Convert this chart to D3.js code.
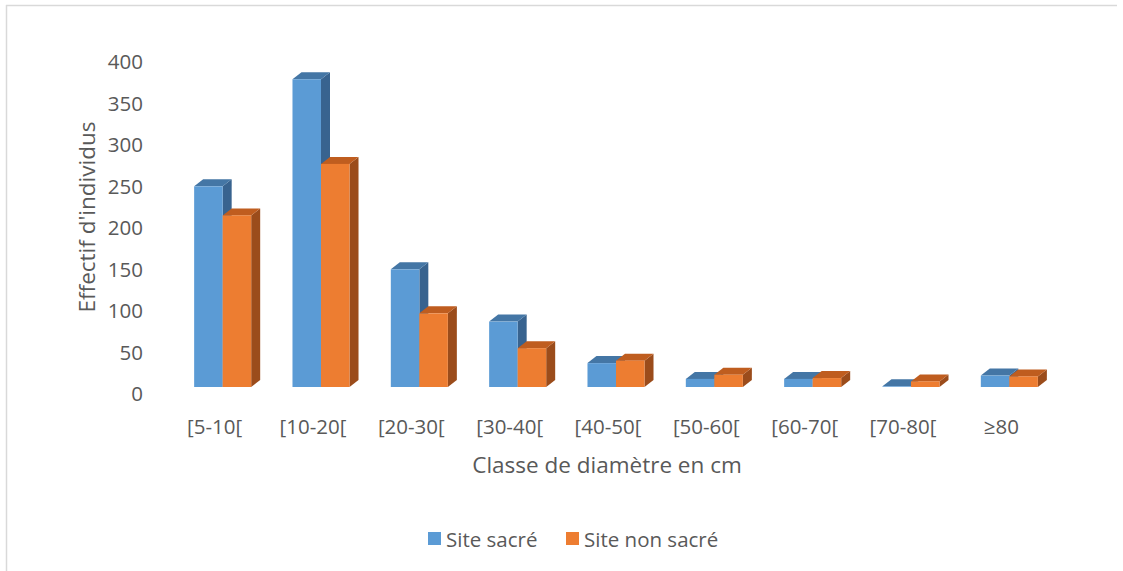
<!DOCTYPE html>
<html>
<head>
<meta charset="utf-8">
<script src="https://cdn.jsdelivr.net/npm/d3@7"></script>
<style>
  body { margin: 0; background: #fff; }
  svg { display: block; font-family: "Open Sans", sans-serif; }
  .tick-label { fill: #595959; font-size: 20.5px; }
  .axis-title { fill: #595959; font-size: 22.5px; }
  .legend-label { fill: #595959; font-size: 20.5px; }
</style>
</head>
<body>
<svg id="chart" width="1123" height="571"></svg>
<script>
  const categories = ["[5-10[", "[10-20[", "[20-30[", "[30-40[", "[40-50[", "[50-60[", "[60-70[", "[70-80[", "≥80"];
  const siteSacre = [249, 378, 149, 86, 36, 17, 17, 8, 21];
  const siteNonSacre = [214, 276, 96, 54, 39, 22, 18, 14, 20];
  const yTicks = [0, 50, 100, 150, 200, 250, 300, 350, 400];
  const seriesNames = ["Site sacré", "Site non sacré"];

  const colors = {
    "Site sacré": { front: "#5b9bd5", top: "#4476a5", side: "#38638f" },
    "Site non sacré": { front: "#ed7d31", top: "#bf5d1f", side: "#9b4c1b" }
  };

  const svg = d3.select("#chart");

  // chart frame (only left/top edge visible)
  svg.append("line").attr("x1", 6.5).attr("y1", 5).attr("x2", 6.5).attr("y2", 571)
    .attr("stroke", "#d9d9d9").attr("stroke-width", 1.5);
  svg.append("line").attr("x1", 6).attr("y1", 5.5).attr("x2", 1117).attr("y2", 5.5)
    .attr("stroke", "#d9d9d9").attr("stroke-width", 1.5);

  const depthX = 9, depthY = -7, floorOffset = 6;

  const y = d3.scaleLinear().domain([0, 400]).range([393, 61]);

  const x = d3.scaleBand()
    .domain(categories)
    .range([173.5, 1058.5])
    .paddingInner(0.42)
    .paddingOuter(0.21);

  const xs = d3.scaleBand().domain(seriesNames).range([0, x.bandwidth()]);

  // y tick labels
  svg.append("g").selectAll("text")
    .data(yTicks)
    .join("text")
      .attr("class", "tick-label")
      .attr("x", 143)
      .attr("y", d => y(d))
      .attr("text-anchor", "end")
      .attr("dominant-baseline", "central")
      .text(d => d);

  // bars
  const rows = categories.map((c, i) => ({
    cat: c,
    values: [
      { name: seriesNames[0], v: siteSacre[i] },
      { name: seriesNames[1], v: siteNonSacre[i] }
    ]
  }));

  const bottom = y(0) - floorOffset;

  const groups = svg.append("g").selectAll("g")
    .data(rows)
    .join("g")
      .attr("transform", d => `translate(${x(d.cat)},0)`);

  groups.each(function(row) {
    const g = d3.select(this);
    row.values.forEach(s => {
      const x0 = xs(s.name), w = xs.bandwidth();
      const top = Math.min(y(s.v), bottom);
      const c = colors[s.name];
      // side face
      g.append("path")
        .attr("d", `M${x0 + w},${top} L${x0 + w + depthX},${top + depthY} L${x0 + w + depthX},${bottom + depthY} L${x0 + w},${bottom} Z`)
        .attr("fill", c.side);
      // top face
      g.append("path")
        .attr("d", `M${x0},${top} L${x0 + depthX},${top + depthY} L${x0 + w + depthX},${top + depthY} L${x0 + w},${top} Z`)
        .attr("fill", c.top);
      // front face
      g.append("rect")
        .attr("x", x0)
        .attr("y", top)
        .attr("width", w)
        .attr("height", bottom - top)
        .attr("fill", c.front);
    });
  });

  // x labels
  svg.append("g").selectAll("text")
    .data(categories)
    .join("text")
      .attr("class", "tick-label")
      .attr("x", d => x(d) + x.bandwidth() / 2 - 8)
      .attr("y", 426)
      .attr("text-anchor", "middle")
      .attr("dominant-baseline", "central")
      .text(d => d);

  // axis titles
  svg.append("text")
    .attr("class", "axis-title")
    .attr("transform", "translate(86,217) rotate(-90)")
    .attr("text-anchor", "middle")
    .attr("dominant-baseline", "central")
    .text("Effectif d'individus");

  svg.append("text")
    .attr("class", "axis-title")
    .attr("x", 607)
    .attr("y", 464)
    .attr("text-anchor", "middle")
    .attr("dominant-baseline", "central")
    .text("Classe de diamètre en cm");

  // legend
  const legendX = [428, 566];
  const legend = svg.append("g").selectAll("g")
    .data(seriesNames)
    .join("g")
      .attr("transform", (d, i) => `translate(${legendX[i]},532)`);

  legend.append("rect")
    .attr("width", 13).attr("height", 13)
    .attr("fill", d => colors[d].front);

  legend.append("text")
    .attr("class", "legend-label")
    .attr("x", 18)
    .attr("y", 6.5)
    .attr("dominant-baseline", "central")
    .text(d => d);
</script>
</body>
</html>
